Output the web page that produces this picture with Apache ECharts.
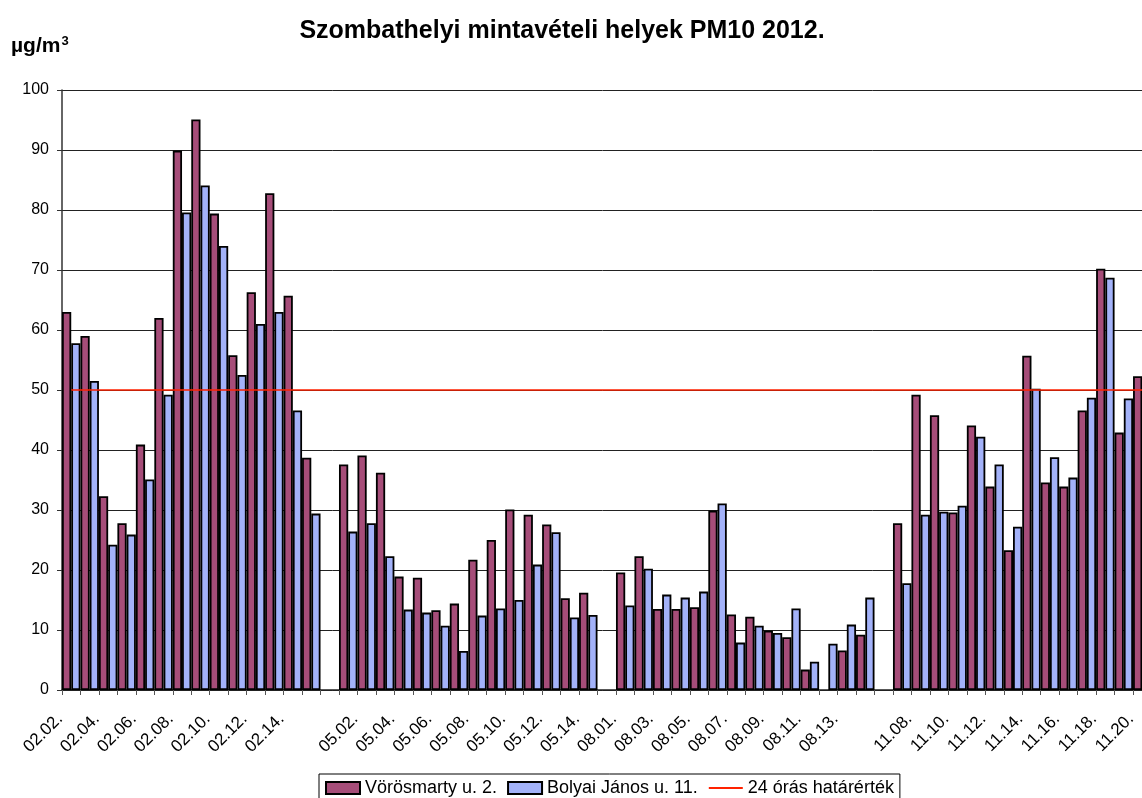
<!DOCTYPE html>
<html>
<head>
<meta charset="utf-8">
<script src="https://cdn.jsdelivr.net/npm/echarts@6/dist/echarts.min.js"></script>
<style>
  html, body { margin: 0; padding: 0; background: #fff; }
  #chart { width: 1142px; height: 798px; }
</style>
</head>
<body>
<div id="chart"></div>
<script>
// mintavételi napok (üres elem = szünet a csoportok között)
const days = [
  '02.02.', '02.03.', '02.04.', '02.05.', '02.06.', '02.07.', '02.08.',
  '02.09.', '02.10.', '02.11.', '02.12.', '02.13.', '02.14.', '02.15.',
  '',
  '05.01.', '05.02.', '05.03.', '05.04.', '05.05.', '05.06.', '05.07.',
  '05.08.', '05.09.', '05.10.', '05.11.', '05.12.', '05.13.', '05.14.',
  '',
  '08.01.', '08.02.', '08.03.', '08.04.', '08.05.', '08.06.', '08.07.',
  '08.08.', '08.09.', '08.10.', '08.11.', '08.12.', '08.13.', '08.14.',
  '',
  '11.07.', '11.08.', '11.09.', '11.10.', '11.11.', '11.12.', '11.13.',
  '11.14.', '11.15.', '11.16.', '11.17.', '11.18.', '11.19.', '11.20.'
];

const vorosmarty = [
  63.0, 59.0, 32.3, 27.8, 40.9, 62.0, 89.9, 95.1, 79.4, 55.8, 66.3, 82.8, 65.7, 38.7,
  null,
  37.6, 39.1, 36.2, 18.9, 18.7, 13.3, 14.4, 21.7, 25.0, 30.1, 29.2, 27.6, 15.3, 16.2,
  null,
  19.6, 22.3, 13.5, 13.5, 13.8, 29.9, 12.6, 12.2, 9.9, 8.8, 3.4, null, 6.6, 9.2,
  null,
  27.8, 49.2, 45.8, 29.6, 44.1, 33.9, 23.3, 55.7, 34.6, 33.9, 46.6, 70.2, 42.9, 52.3
];

const bolyai = [
  57.8, 51.5, 24.2, 25.9, 35.1, 49.2, 79.6, 84.1, 74.0, 52.5, 61.0, 63.0, 46.6, 29.4,
  null,
  26.4, 27.8, 22.3, 13.4, 12.9, 10.7, 6.5, 12.4, 13.6, 15.0, 20.9, 26.3, 12.1, 12.5,
  null,
  14.1, 20.2, 15.9, 15.4, 16.4, 31.1, 7.9, 10.7, 9.5, 13.6, 4.7, 7.7, 10.9, 15.4,
  null,
  17.8, 29.2, 29.7, 30.7, 42.2, 37.6, 27.2, 50.2, 38.8, 35.4, 48.7, 68.7, 48.6, null
];

// 24 órás határérték (µg/m3)
const limitValue = 50;

const font = 'Liberation Sans';

let myChart = echarts.init(document.getElementById('chart'));
myChart.setOption({
  animation: false,
  backgroundColor: '#fff',
  textStyle: { fontFamily: font },
  graphic: [
    {
      type: 'text',
      x: 562, y: 31,
      style: {
        text: 'Szombathelyi mintavételi helyek PM10 2012.',
        font: 'bold 25px "Liberation Sans"',
        fill: '#000',
        textAlign: 'center',
        textVerticalAlign: 'middle'
      }
    },
    {
      type: 'text',
      x: 11, y: 46,
      style: {
        text: 'µg/m',
        font: 'bold 21px "Liberation Sans"',
        fill: '#000',
        textAlign: 'left',
        textVerticalAlign: 'middle'
      }
    },
    {
      type: 'text',
      x: 61.5, y: 41,
      style: {
        text: '3',
        font: 'bold 13px "Liberation Sans"',
        fill: '#000',
        textAlign: 'left',
        textVerticalAlign: 'middle'
      }
    }
  ],
  grid: {
    left: 62,
    right: -9.5,
    top: 90,
    bottom: 108,
    containLabel: false,
    outerBoundsMode: 'none'
  },
  legend: {
    left: 319,
    top: 774,
    orient: 'horizontal',
    padding: [5, 6],
    itemGap: 10,
    itemWidth: 34,
    itemHeight: 12,
    borderColor: '#000',
    borderWidth: 1,
    backgroundColor: '#fff',
    selectedMode: false,
    textStyle: { fontSize: 18, color: '#000', fontFamily: font },
    data: [
      { name: 'Vörösmarty u. 2.', icon: 'rect' },
      { name: 'Bolyai János u. 11.', icon: 'rect' },
      {
        name: '24 órás határérték',
        itemStyle: { color: 'rgba(0,0,0,0)', borderWidth: 0, opacity: 0 }
      }
    ]
  },
  xAxis: {
    type: 'category',
    data: days,
    boundaryGap: true,
    axisLine: { lineStyle: { color: '#222', width: 1.5 } },
    axisTick: { show: true, interval: 0, length: 5, lineStyle: { color: '#555' } },
    axisLabel: {
      interval: 1,
      rotate: 45,
      margin: 15,
      padding: [0, 16, 0, 0],
      fontSize: 17,
      color: '#000',
      fontFamily: font
    },
    splitLine: { show: false }
  },
  yAxis: {
    type: 'value',
    min: 0,
    max: 100,
    interval: 10,
    axisLine: { show: true, lineStyle: { color: '#333', width: 1.5 } },
    axisTick: { show: true, length: 5, lineStyle: { color: '#333' } },
    axisLabel: { margin: 13, fontSize: 16, color: '#000', fontFamily: font },
    splitLine: { show: true, lineStyle: { color: '#222', width: 1 } }
  },
  series: [
    {
      name: 'Vörösmarty u. 2.',
      type: 'bar',
      data: vorosmarty,
      barGap: '0%',
      barCategoryGap: '0%',
      itemStyle: { color: '#a64d79', borderColor: '#000', borderWidth: 1.8 }
    },
    {
      name: 'Bolyai János u. 11.',
      type: 'bar',
      data: bolyai,
      barGap: '0%',
      barCategoryGap: '0%',
      itemStyle: { color: '#a3b2f9', borderColor: '#000', borderWidth: 1.8 }
    },
    {
      name: '24 órás határérték',
      type: 'line',
      data: days.map(() => limitValue),
      symbol: 'none',
      z: 3,
      lineStyle: { color: '#ff2200', width: 1.5 },
      itemStyle: { color: '#ff2200' }
    }
  ]
});
window.onresize = myChart.resize;
</script>
</body>
</html>
